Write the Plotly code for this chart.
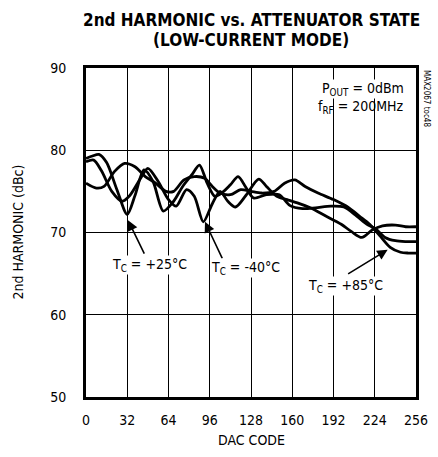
import plotly.graph_objects as go

# DAC code samples and 2nd harmonic (dBc) for each case temperature
dac_25 = [0, 5, 10, 16, 24, 32, 38, 45, 52, 60, 68, 75, 82, 88, 94, 100, 106, 112, 118, 124,
          130, 140, 150, 158, 168, 178, 190, 200, 210, 218, 225, 232, 240, 248, 256]
h2_25 = [79.0, 79.3, 79.5, 78.5, 75.2, 72.2, 74.5, 77.6, 76.2, 72.6, 73.8, 75.6, 77.0, 78.2,
         76.0, 74.4, 74.9, 75.8, 76.8, 75.5, 74.2, 74.6, 74.6, 73.3, 72.9, 73.0, 73.2, 73.1,
         72.0, 71.0, 70.4, 69.4, 69.0, 68.9, 68.9]

dac_m40 = [0, 6, 12, 20, 28, 34, 42, 48, 56, 64, 70, 78, 84, 91, 98, 104, 110, 116, 124,
           134, 140, 148, 156, 164, 174, 186, 198, 206, 214, 222, 230, 240, 248, 256]
h2_m40 = [78.6, 78.8, 77.5, 75.0, 73.8, 74.5, 76.5, 77.8, 76.2, 74.0, 73.2, 75.2, 74.4, 71.3,
          73.5, 75.0, 73.8, 73.1, 74.5, 76.5, 75.6, 74.4, 74.0, 73.6, 73.0, 72.0, 71.0, 70.1,
          69.4, 70.3, 70.8, 70.9, 70.7, 70.7]

dac_85 = [0, 8, 14, 22, 30, 38, 46, 54, 62, 68, 76, 84, 92, 98, 104, 112, 120, 128, 136, 146,
          154, 162, 170, 180, 192, 204, 212, 220, 228, 236, 244, 250, 256]
h2_85 = [76.0, 75.4, 75.6, 77.4, 78.4, 78.0, 76.8, 76.0, 75.0, 75.0, 76.4, 76.8, 76.6, 75.6,
         74.8, 74.6, 75.2, 75.0, 74.8, 75.0, 76.0, 76.4, 75.6, 74.8, 74.0, 73.0, 72.0, 71.0,
         69.6, 68.2, 67.6, 67.5, 67.5]

x_ticks = [0, 32, 64, 96, 128, 160, 192, 224, 256]
y_ticks = [50, 60, 70, 80, 90]

FONT = 'DejaVu Sans Condensed, Liberation Sans Narrow, Arial Narrow, sans-serif'

fig = go.Figure()
for xs, ys, nm in [(dac_25, h2_25, '+25C'), (dac_m40, h2_m40, '-40C'), (dac_85, h2_85, '+85C')]:
    fig.add_trace(go.Scatter(x=xs, y=ys, name=nm, mode='lines',
                             line=dict(color='black', width=2.8, shape='spline', smoothing=0.8),
                             showlegend=False, hoverinfo='skip'))

# arrows (tip at the curve, tail near the label)
arrows = [(32.6, 71.5, 17, 35), (92.3, 71.3, 18, 38), (234, 67.9, -41, 25)]
for x, y, ax, ay in arrows:
    fig.add_annotation(x=x, y=y, ax=ax, ay=ay, text='', showarrow=True,
                       arrowhead=2, arrowsize=1.3, arrowwidth=1.6, arrowcolor='black')

labels = [(49.6, 66.0, 'T<sub>C</sub> = +25°C'), (124, 65.7, 'T<sub>C</sub> = -40°C'),
          (201.6, 63.5, 'T<sub>C</sub> = +85°C')]
for x, y, t in labels:
    fig.add_annotation(x=x, y=y, text=t, showarrow=False, bgcolor='white',
                       font=dict(family=FONT, size=14, color='black'), borderpad=0)

fig.add_annotation(x=247.4, y=87.4, xanchor='right', text='P<sub>OUT</sub> = 0dBm', showarrow=False,
                   bgcolor='white', borderpad=0, font=dict(family=FONT, size=14, color='black'))
fig.add_annotation(x=247.4, y=85.3, xanchor='right', text='f<sub>RF</sub> = 200MHz', showarrow=False,
                   borderpad=0, font=dict(family=FONT, size=14, color='black'))
fig.add_annotation(x=1.0, y=1.0, xref='paper', yref='paper', xanchor='left', yanchor='top',
                   xshift=4, text='MAX2067 toc48', textangle=90, showarrow=False,
                   font=dict(family=FONT, size=8, color='black'))

# title, two lines
fig.add_annotation(x=0.5, y=1.0, xref='paper', yref='paper', yanchor='middle', yshift=48,
                   text='<b>2nd HARMONIC vs. ATTENUATOR STATE</b>', showarrow=False,
                   font=dict(family=FONT, size=17, color='black'))
fig.add_annotation(x=0.5, y=1.0, xref='paper', yref='paper', yanchor='middle', yshift=28,
                   text='<b>(LOW-CURRENT MODE)</b>', showarrow=False,
                   font=dict(family=FONT, size=17, color='black'))

# axis titles
fig.add_annotation(x=0.5, y=0.0, xref='paper', yref='paper', yanchor='middle', yshift=-43,
                   text='DAC CODE', showarrow=False, font=dict(family=FONT, size=14, color='black'))
fig.add_annotation(x=0.0, y=0.5, xref='paper', yref='paper', xanchor='center', xshift=-69,
                   text='2nd HARMONIC (dBc)', textangle=-90, showarrow=False,
                   font=dict(family=FONT, size=14, color='black'))

fig.update_layout(
    width=438, height=457,
    margin=dict(l=86, r=22, t=68, b=60),
    paper_bgcolor='white', plot_bgcolor='white',
    font=dict(family=FONT, size=14, color='black'),
)
fig.update_xaxes(range=[0, 256], tickvals=x_ticks, showgrid=True, gridcolor='black', gridwidth=1,
                 showline=True, linecolor='black', linewidth=3, mirror=True, ticks='',
                 zeroline=False, ticklabelstandoff=8, automargin=False)
fig.update_yaxes(range=[50, 90], tickvals=y_ticks, showgrid=True, gridcolor='black', gridwidth=1,
                 showline=True, linecolor='black', linewidth=3, mirror=True, ticks='',
                 zeroline=False, ticklabelstandoff=14, automargin=False)

# drop the default page margin so the figure sits at the window's corner
fig.write_html('out.html', config={'displayModeBar': False},
               post_script="document.body.style.margin='0';")
